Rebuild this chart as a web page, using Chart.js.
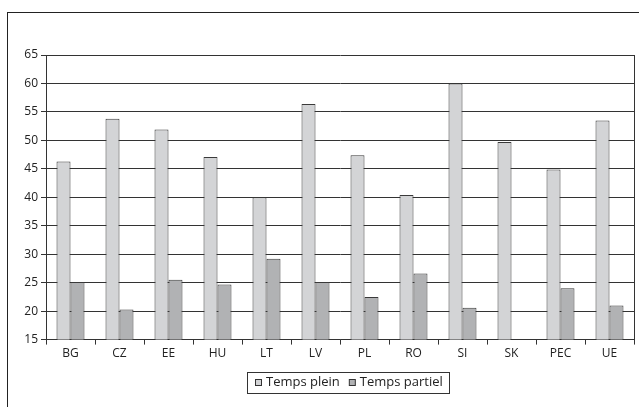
<!DOCTYPE html>
<html><head><meta charset="utf-8">
<script src="https://cdn.jsdelivr.net/npm/chart.js@4"></script>
<style>
html,body{margin:0;padding:0;background:#fff;overflow:hidden;}
#frame{position:absolute;left:7px;top:12px;width:700px;height:500px;border:1.5px solid #222;box-sizing:border-box;}
#wrap{position:absolute;left:0;top:0;width:639px;height:407px;}
</style></head>
<body>
<div id="frame"></div>
<div id="wrap"><canvas id="c" width="639" height="407"></canvas></div>
<script>
const categories = ['BG','CZ','EE','HU','LT','LV','PL','RO','SI','SK','PEC','UE'];
const tempsPlein = [46.3, 53.8, 51.9, 47.1, 40.0, 56.4, 47.4, 40.4, 60.0, 49.7, 44.9, 53.5];
const tempsPartiel = [25.1, 20.3, 25.5, 24.7, 29.2, 25.1, 22.5, 26.6, 20.6, null, 24.0, 21.0];
const seriesLabels = ['Temps plein', 'Temps partiel'];
const yTicks = [15,20,25,30,35,40,45,50,55,60,65];

const FONT = "'Open Sans', sans-serif";
const framePlugin = {
  id: 'framePlugin',
  afterDraw(chart) {
    const ctx = chart.ctx, a = chart.chartArea;
    ctx.save();
    ctx.strokeStyle = '#333';
    ctx.lineWidth = 1;
    ctx.beginPath();
    ctx.moveTo(Math.round(a.right) + 0.5, a.top);
    ctx.lineTo(Math.round(a.right) + 0.5, a.bottom);
    ctx.stroke();
    // legend
    ctx.font = '13px ' + FONT;
    const ds = chart.data.datasets;
    const box = 7, gap = 4, itemGap = 9;
    let widths = ds.map(d => box + gap + ctx.measureText(d.label).width);
    const total = widths.reduce((s, w) => s + w, 0) + itemGap * (ds.length - 1);
    const cx = 349, cy = 382.5;
    let x = Math.round(cx - total / 2);
    ctx.strokeStyle = '#333';
    ctx.strokeRect(Math.round(x - 8) + 0.5, 372.5, Math.round(total + 14), 21);
    ctx.textBaseline = 'middle';
    ds.forEach((d, i) => {
      ctx.fillStyle = d.backgroundColor;
      ctx.fillRect(x + 0.5, Math.round(cy - box / 2) + 0.5, box - 1, box - 1);
      ctx.strokeStyle = '#333';
      ctx.strokeRect(x + 0.5, Math.round(cy - box / 2) + 0.5, box - 1, box - 1);
      ctx.fillStyle = '#222';
      ctx.fillText(d.label, x + box + gap, cy);
      x += widths[i] + itemGap;
    });
    ctx.restore();
  }
};

new Chart(document.getElementById('c'), {
  type: 'bar',
  data: {
    labels: categories,
    datasets: [
      { label: seriesLabels[0], data: tempsPlein, backgroundColor: '#d3d4d6', borderColor: '#3a3a3a', borderWidth: 1 },
      { label: seriesLabels[1], data: tempsPartiel, backgroundColor: '#b1b2b4', borderColor: '#3a3a3a', borderWidth: 1 }
    ]
  },
  options: {
    responsive: false,
    animation: false,
    devicePixelRatio: 1,
    layout: { padding: { left: 0, right: 5, top: 55, bottom: 44 } },
    datasets: { bar: { categoryPercentage: 0.571, barPercentage: 1.0 } },
    scales: {
      x: {
        grid: { offset: true, drawOnChartArea: false, drawTicks: true, tickLength: 5, color: '#333' },
        border: { color: '#333', width: 1 },
        ticks: { color: '#222', font: { family: FONT, size: 12 }, padding: 2 },
      },
      y: {
        min: 15, max: 65,
        afterBuildTicks(scale) { scale.ticks = yTicks.map(v => ({ value: v })); },
        afterFit(scale) { scale.width = 46; },
        grid: { color: '#333', lineWidth: 1, tickLength: 5 },
        border: { color: '#333', width: 1 },
        ticks: { color: '#222', font: { family: FONT, size: 12 }, padding: 3 }
      }
    },
    plugins: {
      legend: { display: false },
      tooltip: { enabled: false }
    }
  },
  plugins: [framePlugin]
});
</script>
</body></html>
